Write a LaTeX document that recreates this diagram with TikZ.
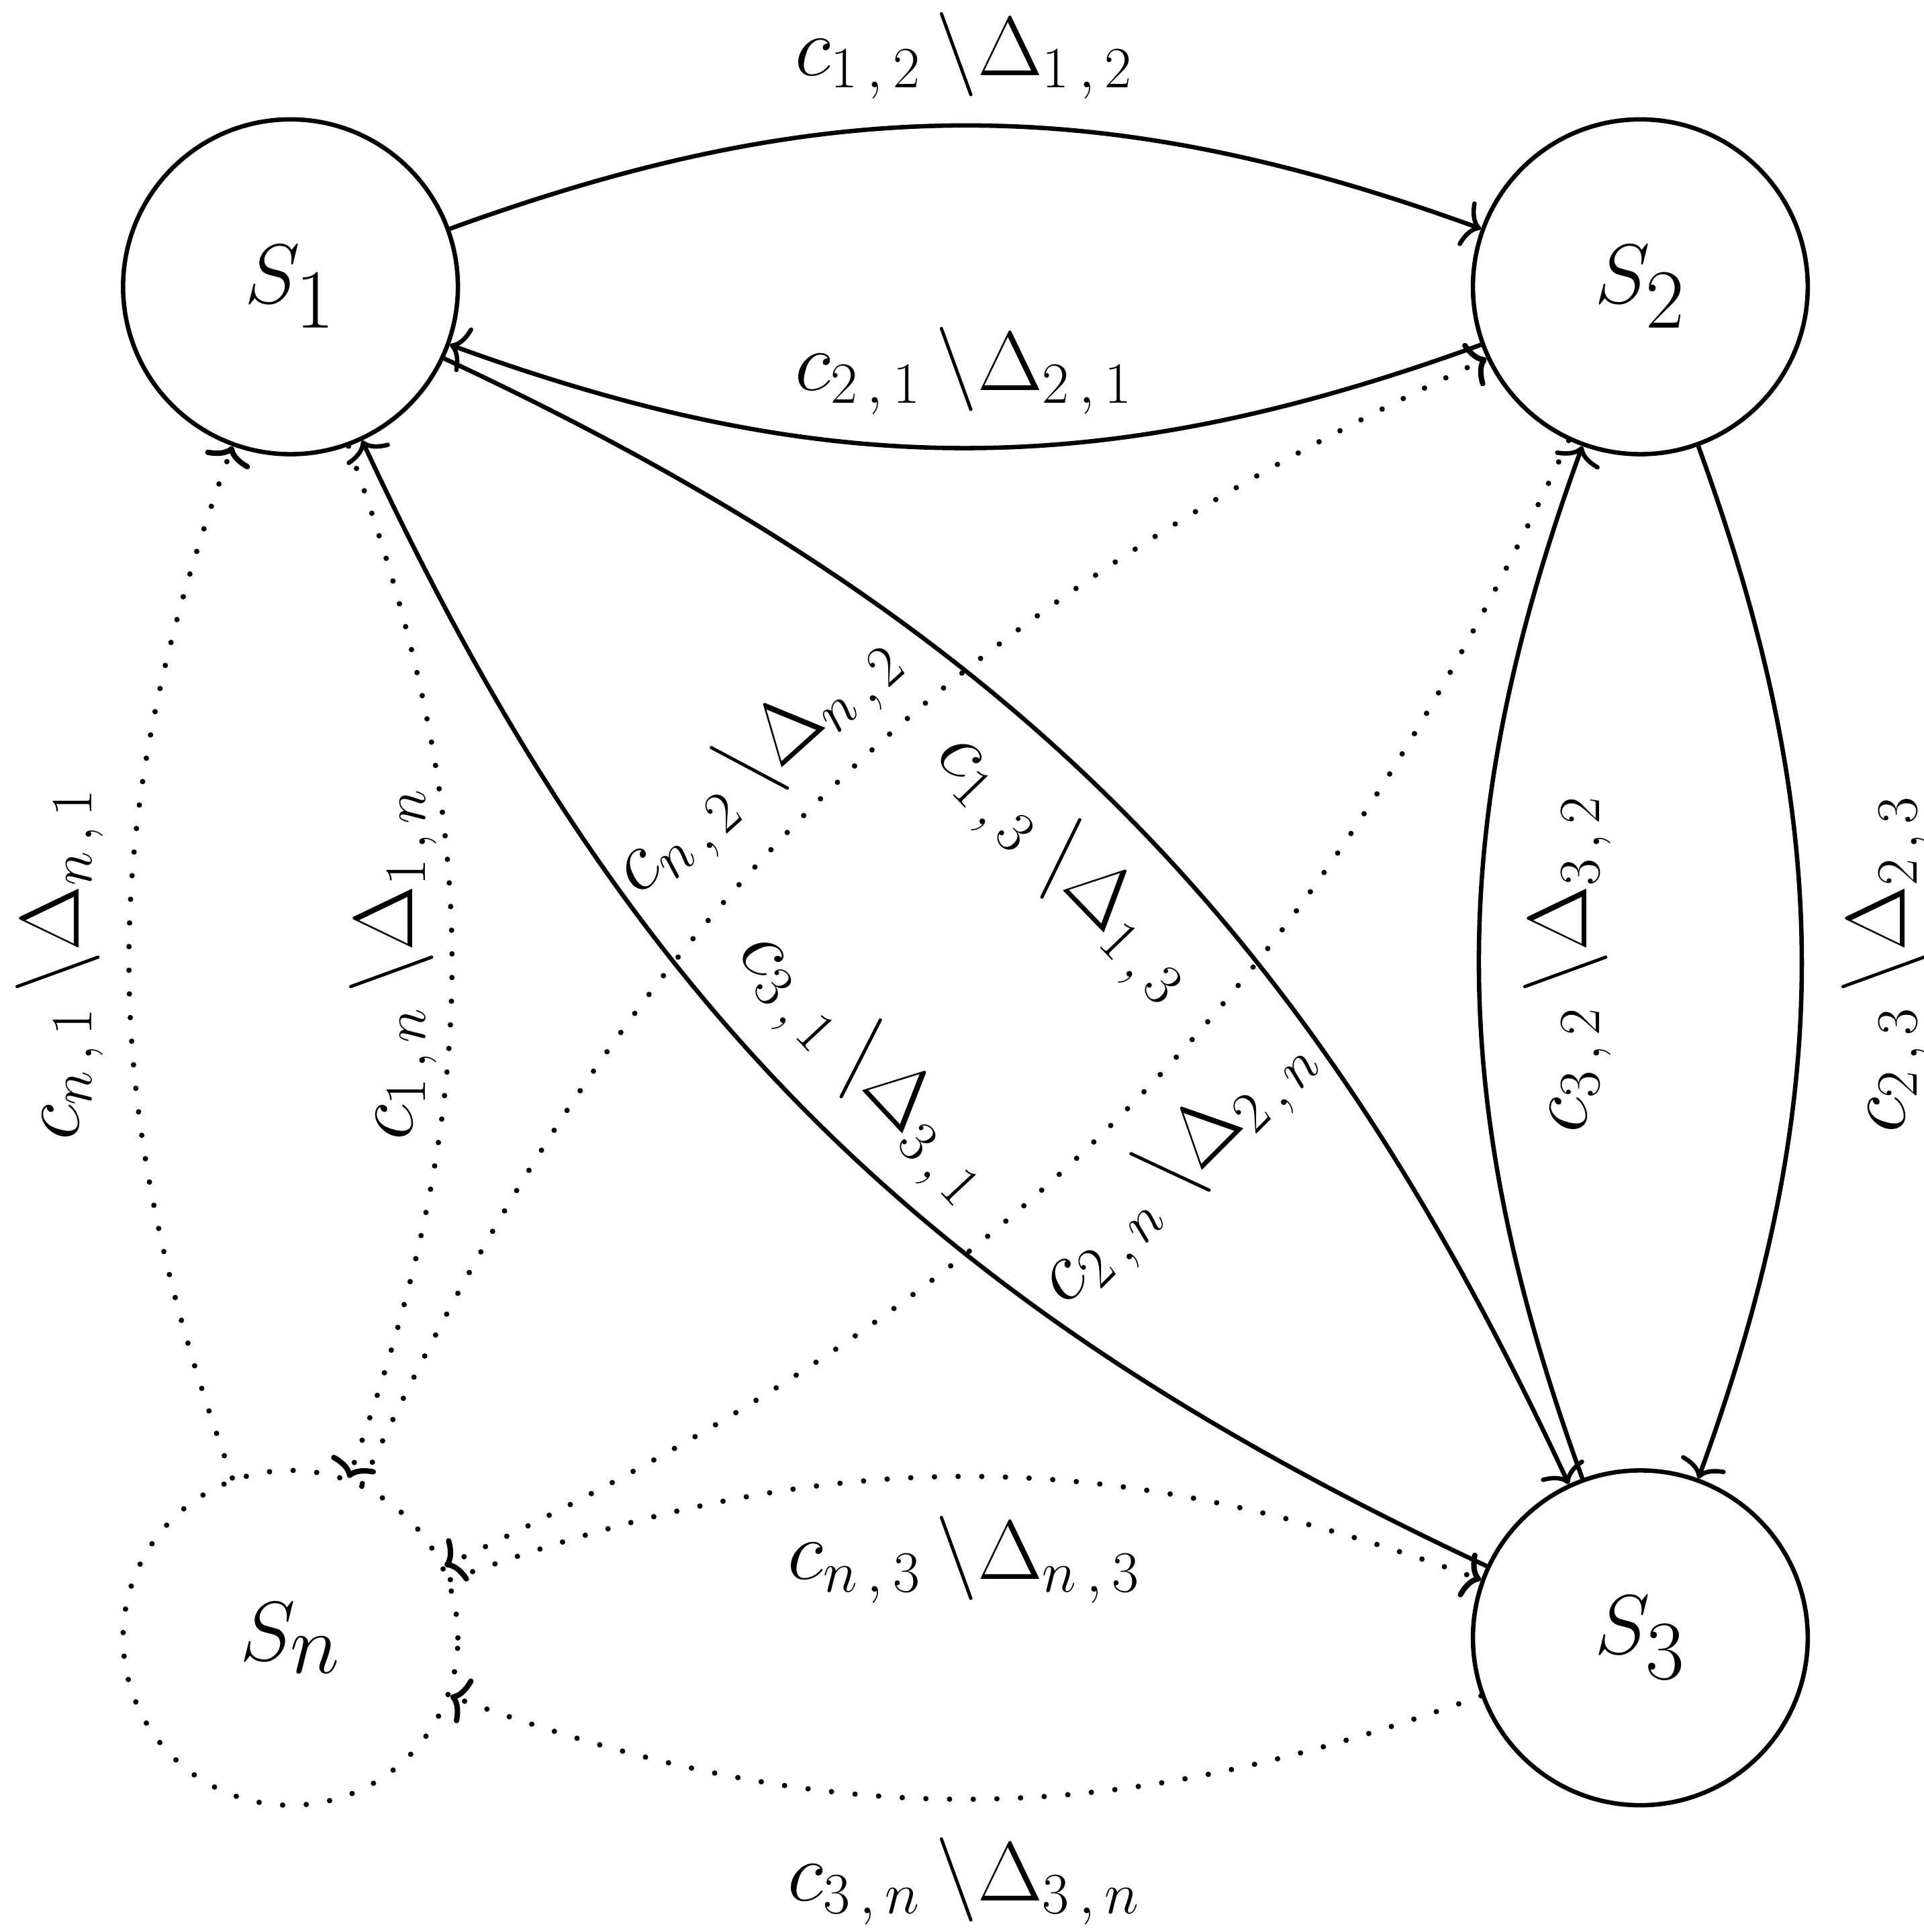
\documentclass[tikz,border=0pt]{standalone}
\usetikzlibrary{arrows.meta}
\begin{document}
\begin{tikzpicture}[x=0.01285cm,y=-0.01285cm,
  st/.style={circle,draw,line width=1.3pt,minimum size=3.48cm,inner sep=0pt,font=\fontsize{44}{50}\selectfont},
  dst/.style={st,line cap=round,dash pattern=on 0pt off 7pt,line width=1.6pt},
  e/.style={line width=1.3pt,-{To[length=5pt,width=14pt]},bend left=20},
  de/.style={e,line cap=round,dash pattern=on 0pt off 7pt,line width=1.6pt},
  lb/.style={font=\fontsize{23}{28}\selectfont,inner sep=0pt}]
\useasboundingbox (0,0) rectangle (1556,1563);
\node[st] (s1) at (235,232) {$S_1$};
\node[st] (s2) at (1327,232) {$S_2$};
\node[st] (s3) at (1327,1325) {$S_3$};
\node[dst] (sn) at (235,1325) {$S_n$};
\draw[e] (s1) to (s2);
\draw[e] (s2) to (s1);
\draw[e] (s1) to (s3);
\draw[e] (s3) to (s1);
\draw[e] (s2) to (s3);
\draw[e] (s3) to (s2);
\draw[de] (sn) to (s1);
\draw[de] (s1) to (sn);
\draw[de] (sn) to (s2);
\draw[de] (s2) to (sn);
\draw[de] (sn) to (s3);
\draw[de] (s3) to (sn);
\newcommand{\lab}[4]{$c_{#1\,,\,#2}\,\backslash\Delta_{#3\,,\,#4}$}
\node[lb] (l12) at (780,45) {\lab{1}{2}{1}{2}};
\node[lb] (l21) at (780,300) {\lab{2}{1}{2}{1}};
\node[lb] (ln3) at (780,1262) {\lab{n}{3}{n}{3}};
\node[lb] (l3n) at (780,1522) {\lab{3}{n}{3}{n}};
\node[lb,rotate=90] (ln1) at (48,780) {\lab{n}{1}{n}{1}};
\node[lb,rotate=90] (l1n) at (318,780) {\lab{1}{n}{1}{n}};
\node[lb,rotate=90] (l32) at (1268,780) {\lab{3}{2}{3}{2}};
\node[lb,rotate=90] (l23) at (1525,780) {\lab{2}{3}{2}{3}};
\node[lb,rotate=42] (ln2) at (612,618) {\lab{n}{2}{n}{2}};
\node[lb,rotate=-46] (l13) at (862,700) {\lab{1}{3}{1}{3}};
\node[lb,rotate=-47] (l31) at (700,862) {\lab{3}{1}{3}{1}};
\node[lb,rotate=45] (l2n) at (952,945) {\lab{2}{n}{2}{n}};
\end{tikzpicture}
\end{document}
